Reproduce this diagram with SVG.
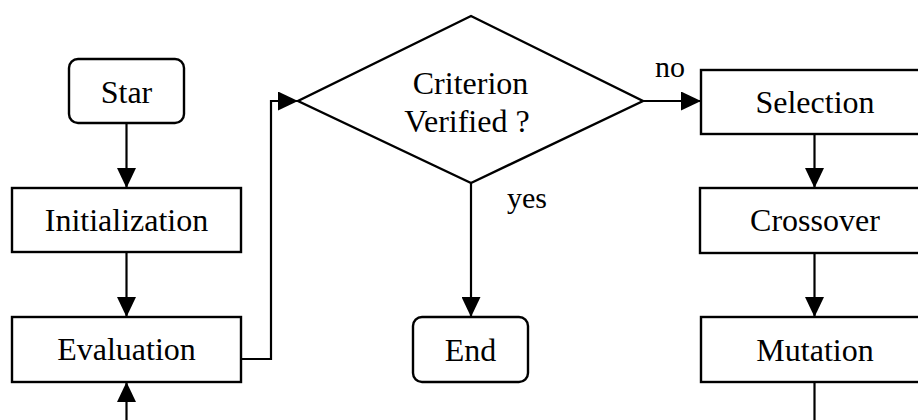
<svg xmlns="http://www.w3.org/2000/svg" width="918" height="420" viewBox="0 0 918 420">
  <defs>
    <marker id="arrow" markerUnits="userSpaceOnUse" markerWidth="20" markerHeight="19" refX="20" refY="9.5" orient="auto">
      <path d="M0,0 L20,9.5 L0,19 Z" fill="#000"/>
    </marker>
  </defs>
  <style>
    .box { fill: #fff; stroke: #000; stroke-width: 2.4; }
    .lbl { font-family: "Liberation Serif", "Times New Roman", serif; font-size: 32px; fill: #000; text-anchor: middle; }
    .small { font-family: "Liberation Serif", "Times New Roman", serif; font-size: 30px; fill: #000; }
    .conn { fill: none; stroke: #000; stroke-width: 2.2; }
  </style>
  <rect x="0" y="0" width="918" height="420" fill="#fff"/>
  <g id="connectors">
    <line class="conn" x1="126.5" y1="123" x2="126.5" y2="188" marker-end="url(#arrow)"/>
    <line class="conn" x1="126.5" y1="252" x2="126.5" y2="317" marker-end="url(#arrow)"/>
    <line class="conn" x1="126.5" y1="420" x2="126.5" y2="382" marker-end="url(#arrow)"/>
    <polyline class="conn" points="241,359 271,359 271,101 298,101" marker-end="url(#arrow)"/>
    <line class="conn" x1="471" y1="183" x2="471" y2="317" marker-end="url(#arrow)"/>
    <line class="conn" x1="643" y1="101" x2="701" y2="101" marker-end="url(#arrow)"/>
    <line class="conn" x1="814.5" y1="134" x2="814.5" y2="188" marker-end="url(#arrow)"/>
    <line class="conn" x1="814.5" y1="253" x2="814.5" y2="317" marker-end="url(#arrow)"/>
    <line class="conn" x1="814.5" y1="382" x2="814.5" y2="420"/>
    <text class="small" x="507" y="208">yes</text>
    <text class="small" x="655" y="77">no</text>
  </g>
  <g id="star">
    <rect class="box" x="69" y="59" width="115" height="64" rx="9"/>
    <text class="lbl" x="126.5" y="103">Star</text>
  </g>
  <g id="initialization">
    <rect class="box" x="12" y="188" width="229" height="64"/>
    <text class="lbl" x="126.5" y="231">Initialization</text>
  </g>
  <g id="evaluation">
    <rect class="box" x="12" y="317" width="229" height="65"/>
    <text class="lbl" x="126.5" y="360">Evaluation</text>
  </g>
  <g id="criterion">
    <polygon class="box" points="471,16 643,101 471,183 298,101"/>
    <text class="lbl" x="470.5" y="94">Criterion</text>
    <text class="lbl" x="467" y="132">Verified ?</text>
  </g>
  <g id="end">
    <rect class="box" x="413" y="317" width="115" height="65" rx="9"/>
    <text class="lbl" x="470.5" y="361">End</text>
  </g>
  <g id="selection">
    <rect class="box" x="701" y="70" width="229" height="64"/>
    <text class="lbl" x="815" y="113">Selection</text>
  </g>
  <g id="crossover">
    <rect class="box" x="700" y="188" width="230" height="65"/>
    <text class="lbl" x="815" y="231">Crossover</text>
  </g>
  <g id="mutation">
    <rect class="box" x="701" y="317" width="229" height="65"/>
    <text class="lbl" x="815" y="361">Mutation</text>
  </g>
</svg>
